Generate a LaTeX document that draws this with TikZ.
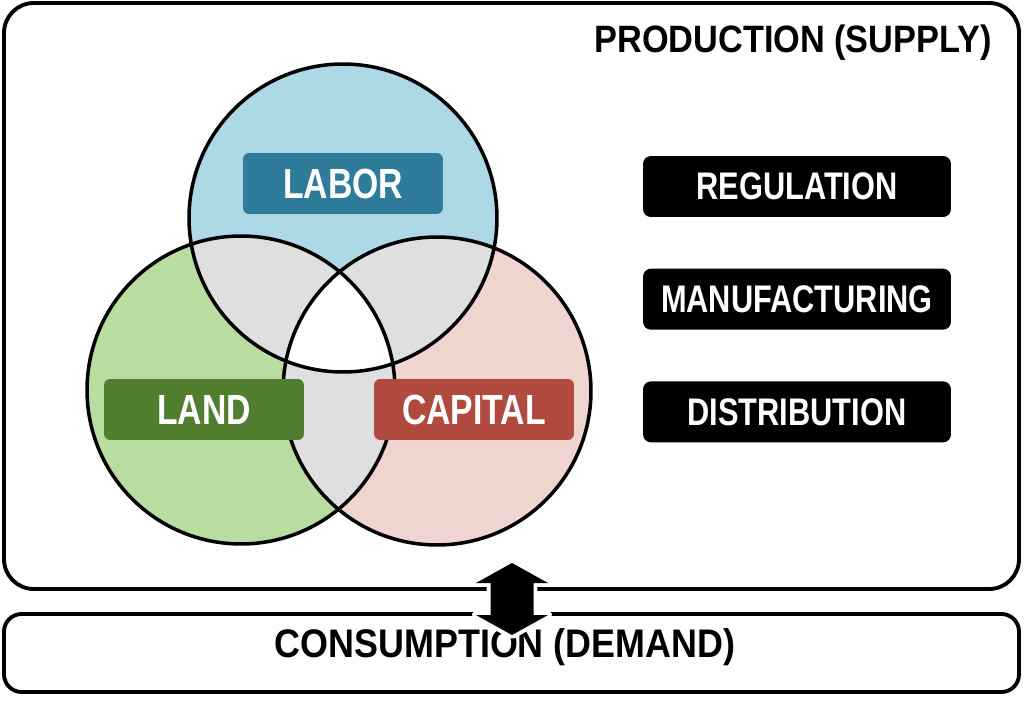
\documentclass[tikz,border=0pt]{standalone}
\usepackage{fontspec}
\setmainfont{Liberation Sans}[FakeStretch=0.8]
\newfontfamily\headfont{Liberation Sans}[FakeStretch=0.9]
\usepackage{tikz}
\usetikzlibrary{positioning,fit}
\definecolor{laborfill}{HTML}{ADD8E6}
\definecolor{laborbox}{HTML}{2E7C99}
\definecolor{landfill}{HTML}{B9DDA0}
\definecolor{landbox}{HTML}{527E30}
\definecolor{capfill}{HTML}{F0D4D0}
\definecolor{capbox}{HTML}{B04A3E}
\definecolor{overlap}{HTML}{DFDFDF}

\begin{document}
\begin{tikzpicture}[x=0.02cm, y=-0.02cm,
  panel/.style={draw, line width=2.2pt, inner sep=0pt},
  factor/.style={rounded corners=3.5pt, minimum width=4cm, minimum height=1.22cm, inner sep=0pt, text=white, font=\fontsize{24}{28}\selectfont\bfseries},
  stage/.style={fill=black, rounded corners=4.5pt, minimum width=6.16cm, minimum height=1.22cm, inner sep=0pt, text=white, font=\fontsize{21.9}{26}\selectfont\bfseries},
  ring/.style={draw, line width=2pt},
  heading/.style={anchor=base, inner sep=0pt, font=\headfont\fontsize{21.7}{26}\selectfont\bfseries},
  flowarrow/.style={fill=black, preaction={draw=white, line width=4.5pt, line join=round}}
]
  \useasboundingbox (0,0) rectangle (1024,706);

  \node[panel, rounded corners=17pt, fit={(4,3) (1019,589)}] (prod) {};
  \node[panel, rounded corners=10pt, fit={(4,614) (1019,692)}] (cons) {};
  \node[heading] (prodtitle) at (793,53) {PRODUCTION (SUPPLY)};
  \node[heading, font=\headfont\fontsize{22.7}{27}\selectfont\bfseries] (constitle) at (505,657) {CONSUMPTION (DEMAND)};

  \coordinate (labc) at (343,218);
  \coordinate (landc) at (241,390);
  \coordinate (capc) at (437,391);

  \fill[laborfill] (labc) circle[radius=3.08cm];
  \fill[landfill] (landc) circle[radius=3.08cm];
  \fill[capfill] (capc) circle[radius=3.08cm];
  \begin{scope}
    \clip (labc) circle[radius=3.08cm];
    \fill[overlap] (landc) circle[radius=3.08cm];
    \fill[overlap] (capc) circle[radius=3.08cm];
  \end{scope}
  \begin{scope}
    \clip (landc) circle[radius=3.08cm];
    \fill[overlap] (capc) circle[radius=3.08cm];
  \end{scope}
  \begin{scope}
    \clip (labc) circle[radius=3.08cm];
    \clip (landc) circle[radius=3.08cm];
    \fill[white] (capc) circle[radius=3.08cm];
  \end{scope}
  \draw[ring] (labc) circle[radius=3.08cm];
  \draw[ring] (landc) circle[radius=3.08cm];
  \draw[ring] (capc) circle[radius=3.08cm];

  \node[factor, fill=laborbox] (labor) at (343,183.5) {LABOR};
  \node[factor, fill=landbox] (land) at (204,409.5) {LAND};
  \node[factor, fill=capbox] (capital) at (474,409.5) {CAPITAL};

  \node[stage] (reg) at (797,186.5) {REGULATION};
  \node[stage, below=1.02cm of reg] (manu) {MANUFACTURING};
  \node[stage, below=1.02cm of manu] (dist) {DISTRIBUTION};

  \coordinate (flow) at (512,599);
  \fill[flowarrow, shift={(flow)}] (0,-36) -- (36,-16) -- (21.5,-16) -- (21.5,16) -- (36,16) -- (0,36)
    -- (-36,16) -- (-21.5,16) -- (-21.5,-16) -- (-36,-16) -- cycle;
\end{tikzpicture}
\end{document}
